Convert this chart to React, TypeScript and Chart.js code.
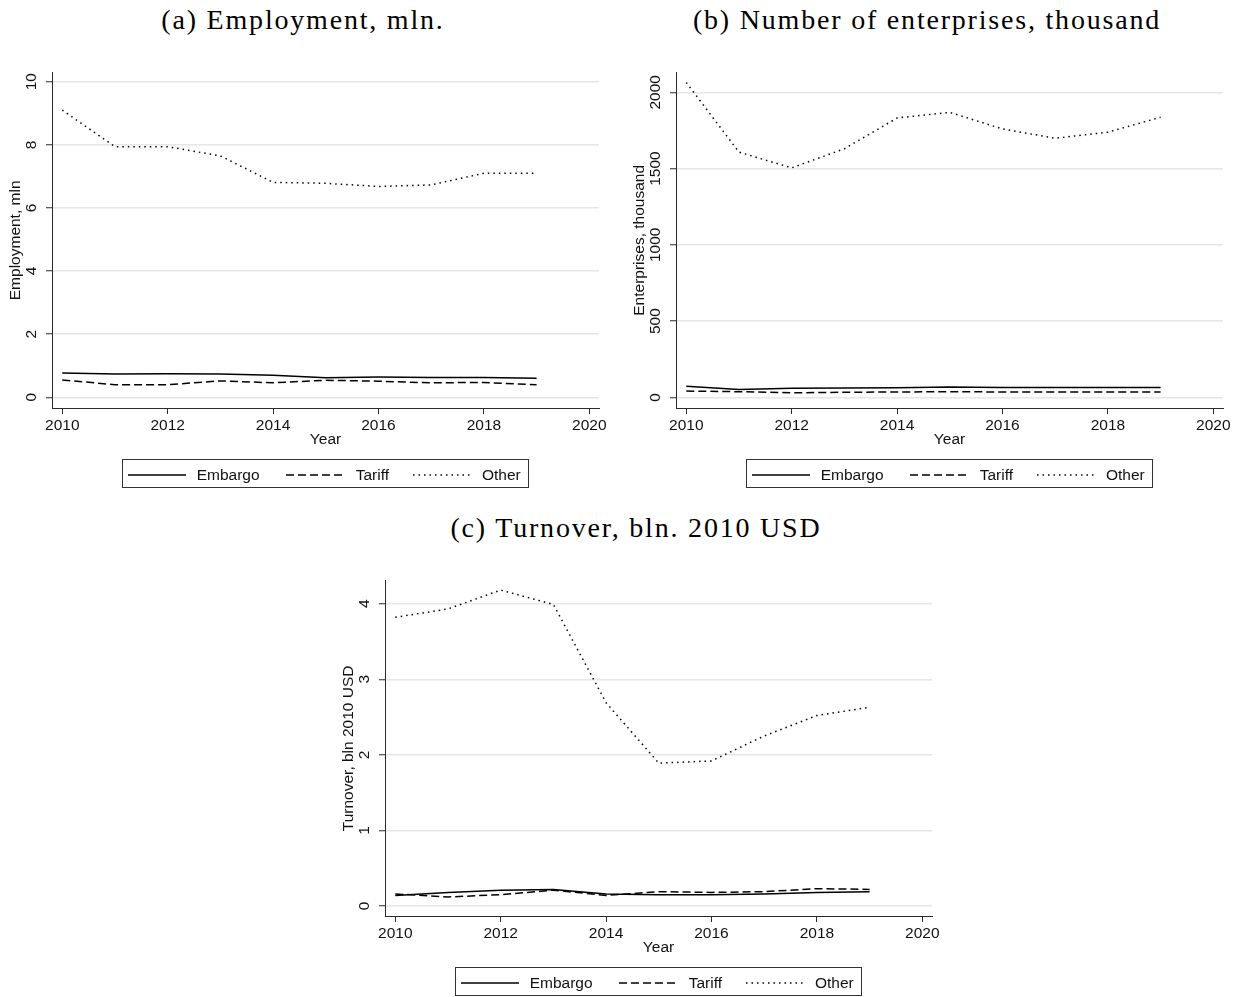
import React, { useEffect, useRef } from "react";
import { Chart, registerables } from "chart.js";

Chart.register(...registerables);

// ---------------- data ----------------
const years = [2010, 2011, 2012, 2013, 2014, 2015, 2016, 2017, 2018, 2019];
const xTicks = [2010, 2012, 2014, 2016, 2018, 2020];

const employmentEmbargo = [0.77, 0.74, 0.75, 0.74, 0.7, 0.62, 0.64, 0.63, 0.63, 0.6];
const employmentTariff = [0.55, 0.4, 0.4, 0.52, 0.46, 0.54, 0.51, 0.46, 0.47, 0.4];
const employmentOther = [9.1, 7.94, 7.94, 7.65, 6.81, 6.78, 6.68, 6.73, 7.1, 7.1];
const employmentTicks = [0, 2, 4, 6, 8, 10];

const enterprisesEmbargo = [72, 52, 59, 61, 63, 68, 65, 65, 65, 65];
const enterprisesTariff = [41, 37, 30, 33, 35, 37, 35, 35, 35, 35];
const enterprisesOther = [2065, 1608, 1505, 1630, 1832, 1869, 1760, 1699, 1739, 1837];
const enterprisesTicks = [0, 500, 1000, 1500, 2000];

const turnoverEmbargo = [0.14, 0.18, 0.21, 0.22, 0.16, 0.15, 0.15, 0.16, 0.18, 0.19];
const turnoverTariff = [0.16, 0.12, 0.15, 0.21, 0.14, 0.19, 0.18, 0.19, 0.23, 0.22];
const turnoverOther = [3.82, 3.93, 4.18, 3.99, 2.69, 1.89, 1.92, 2.25, 2.52, 2.63];
const turnoverTicks = [0, 1, 2, 3, 4];

const seriesNames = ["Embargo", "Tariff", "Other"];

// ---------------- styles ----------------
const SANS = '"Liberation Sans", Arial, Helvetica, sans-serif';
const SERIF = '"Liberation Serif", "Times New Roman", serif';
const FS = 15.5;
const DASHES: number[][] = [[], [8, 4], [1.5, 4]];
const AXIS = "#2a2a2a";
const GRID = "#e6e6e6";

type PanelProps = {
  dx: number;
  dy: number;
  title: string;
  yTitle: string;
  yMin: number;
  yMax: number;
  yTicks: number[];
  tickPad: number;
  data: number[][];
};

function Panel({ dx, dy, title, yTitle, yMin, yMax, yTicks, tickPad, data }: PanelProps) {
  const ref = useRef<HTMLCanvasElement | null>(null);

  useEffect(() => {
    if (!ref.current) return;
    const chart = new Chart(ref.current, {
      type: "line",
      data: {
        datasets: data.map((vals, i) => ({
          label: seriesNames[i],
          data: years.map((y, j) => ({ x: y, y: vals[j] })),
          borderColor: "#000",
          borderWidth: 1.5,
          borderDash: DASHES[i],
          pointRadius: 0,
          tension: 0,
          fill: false,
        })),
      },
      options: {
        animation: false,
        responsive: false,
        events: [],
        layout: { padding: { top: 22.7, left: 0, right: 20, bottom: 0 } },
        plugins: { legend: { display: false }, tooltip: { enabled: false } },
        scales: {
          x: {
            type: "linear",
            min: 2009.805,
            max: 2020.184,
            afterBuildTicks: (s: any) => {
              s.ticks = xTicks.map((v) => ({ value: v }));
            },
            afterFit: (s: any) => {
              s.height = 52;
            },
            grid: {
              drawOnChartArea: false,
              drawTicks: true,
              tickLength: 6,
              tickColor: AXIS,
              tickWidth: 1,
            },
            border: { display: true, color: AXIS, width: 1 },
            ticks: {
              color: "#111",
              font: { family: SANS, size: FS },
              padding: 2,
              maxRotation: 0,
              autoSkip: false,
              callback: (v: any) => String(v),
            },
            title: {
              display: true,
              text: "Year",
              color: "#111",
              font: { family: SANS, size: FS },
              padding: { top: 0, bottom: 10.7 },
            },
          },
          y: {
            type: "linear",
            min: yMin,
            max: yMax,
            afterBuildTicks: (s: any) => {
              s.ticks = yTicks.map((v) => ({ value: v }));
            },
            afterFit: (s: any) => {
              s.width = 52;
            },
            grid: {
              color: GRID,
              lineWidth: 1.5,
              drawTicks: true,
              tickLength: 6,
              tickColor: AXIS,
              tickWidth: 1,
            },
            border: { display: true, color: AXIS, width: 1 },
            ticks: {
              color: "#111",
              font: { family: SANS, size: FS },
              minRotation: 90,
              maxRotation: 90,
              crossAlign: "center",
              padding: tickPad,
              autoSkip: false,
              callback: (v: any) => String(v),
            },
            title: {
              display: true,
              text: yTitle,
              color: "#111",
              font: { family: SANS, size: FS },
              padding: { top: 6.7, bottom: 0 },
            },
          },
        },
      },
    } as any);
    return () => chart.destroy();
  }, []);

  const legendItem = (i: number, lineLeft: number, textLeft: number) => (
    <React.Fragment key={i}>
      <svg
        width={58}
        height={4}
        style={{ position: "absolute", left: lineLeft, top: 13.3 }}
      >
        <line
          x1={0}
          y1={2}
          x2={58}
          y2={2}
          stroke="#000"
          strokeWidth={1.5}
          strokeDasharray={DASHES[i].length ? DASHES[i].join(" ") : undefined}
        />
      </svg>
      <span
        style={{
          position: "absolute",
          left: textLeft,
          top: 0,
          lineHeight: "29px",
          fontFamily: SANS,
          fontSize: FS,
          color: "#111",
          whiteSpace: "nowrap",
        }}
      >
        {seriesNames[i]}
      </span>
    </React.Fragment>
  );

  return (
    <>
      <div
        style={{
          position: "absolute",
          left: dx + 3,
          top: dy + 3,
          width: 600,
          textAlign: "center",
          fontFamily: SERIF,
          fontSize: 28,
          letterSpacing: 1.8,
          lineHeight: "34px",
          color: "#000",
          whiteSpace: "nowrap",
        }}
      >
        {title}
      </div>
      <canvas
        ref={ref}
        width={619}
        height={410}
        style={{ position: "absolute", left: dx, top: dy + 50, width: 619, height: 410 }}
      />
      <div
        style={{
          position: "absolute",
          left: dx + 122,
          top: dy + 459,
          width: 407,
          height: 29,
          border: "1px solid #333",
          boxSizing: "border-box",
        }}
      >
        {legendItem(0, 5, 73.7)}
        {legendItem(1, 163, 232.7)}
        {legendItem(2, 290, 359)}
      </div>
    </>
  );
}

export default function App() {
  return (
    <div
      style={{
        position: "absolute",
        left: 0,
        top: 0,
        width: 1237,
        height: 997,
        background: "#fff",
        overflow: "hidden",
      }}
    >
      <Panel
        dx={0}
        dy={0}
        title="(a) Employment, mln."
        yTitle="Employment, mln"
        yMin={-0.339}
        yMax={10.285}
        yTicks={employmentTicks}
        tickPad={5.9}
        data={[employmentEmbargo, employmentTariff, employmentOther]}
      />
      <Panel
        dx={624}
        dy={0}
        title="(b) Number of enterprises, thousand"
        yTitle="Enterprises, thousand"
        yMin={-70}
        yMax={2129}
        yTicks={enterprisesTicks}
        tickPad={-2.75}
        data={[enterprisesEmbargo, enterprisesTariff, enterprisesOther]}
      />
      <Panel
        dx={333}
        dy={508}
        title="(c) Turnover, bln. 2010 USD"
        yTitle="Turnover, bln 2010 USD"
        yMin={-0.132}
        yMax={4.304}
        yTicks={turnoverTicks}
        tickPad={10.2}
        data={[turnoverEmbargo, turnoverTariff, turnoverOther]}
      />
    </div>
  );
}
